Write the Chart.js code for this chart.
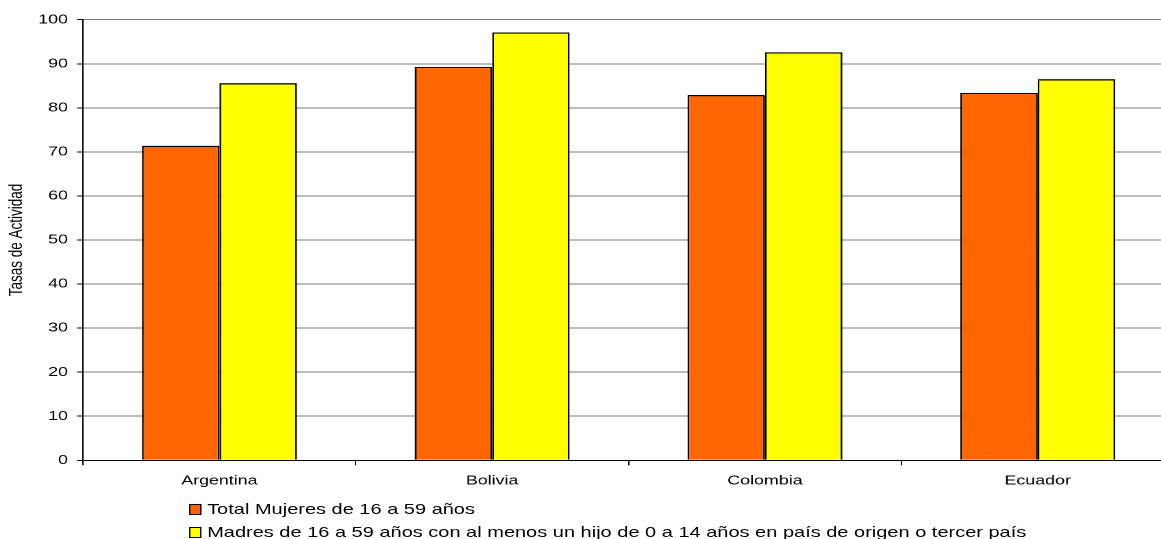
<!DOCTYPE html>
<html>
<head>
<meta charset="utf-8">
<script src="https://cdn.jsdelivr.net/npm/chart.js@4.4.0/dist/chart.umd.min.js"></script>
<style>
  html, body { margin: 0; padding: 0; background: #fff; overflow: hidden; width: 1161px; height: 539px; }
  /* the whole figure is drawn at a narrower logical width and widened horizontally */
  #frame { position: absolute; left: 0; top: 0; width: 858px; height: 539px; transform: scaleX(1.37); transform-origin: 0 0; }
  #chart { position: absolute; left: 0; top: 0; }
  #legend { position: absolute; left: 138px; top: 0; font-family: "Liberation Sans", Arial, sans-serif; font-size: 14.6px; color: #000; }
  .item { position: absolute; left: 0; white-space: nowrap; line-height: 15px; height: 15px; }
  .swatch { display: inline-block; width: 9.3px; height: 11px; border: 1px solid #000; box-sizing: border-box; margin-right: 3.9px; vertical-align: -1px; }
</style>
</head>
<body>
<div id="frame">
  <canvas id="chart" width="858" height="539"></canvas>
  <div id="legend"></div>
</div>
<script>
// Tasas de actividad por país de nacimiento
const categories = ['Argentina', 'Bolivia', 'Colombia', 'Ecuador'];
const totalMujeres = [71.4, 89.3, 82.9, 83.4];
const madres = [85.6, 97.1, 92.6, 86.5];
const seriesNames = [
  'Total Mujeres de 16 a 59 años',
  'Madres de 16 a 59 años con al menos un hijo de 0 a 14 años en país de origen o tercer país'
];
const seriesColors = ['#FF6600', '#FFFF00'];
const yTickValues = [0, 10, 20, 30, 40, 50, 60, 70, 80, 90, 100];
const yTitle = 'Tasas de Actividad';

const FONT = '"Liberation Sans", Arial, sans-serif';

const chart = new Chart(document.getElementById('chart'), {
  type: 'bar',
  data: {
    labels: categories,
    datasets: [
      { label: seriesNames[0], data: totalMujeres, backgroundColor: seriesColors[0], borderColor: '#000', borderWidth: 1.3 },
      { label: seriesNames[1], data: madres, backgroundColor: seriesColors[1], borderColor: '#000', borderWidth: 1.3 }
    ]
  },
  options: {
    responsive: false,
    devicePixelRatio: 2,
    animation: false,
    datasets: { bar: { categoryPercentage: 0.568, barPercentage: 1 } },
    layout: { padding: { top: 19.7, right: 1, bottom: 48.7, left: 0 } },
    plugins: { legend: { display: false }, tooltip: { enabled: false } },
    scales: {
      x: {
        grid: { offset: true, drawOnChartArea: false, drawTicks: true, tickLength: 5, tickColor: '#000', tickWidth: 1 },
        border: { color: '#000', width: 1 },
        ticks: { color: '#000', font: { family: FONT, size: 13 }, padding: 8, maxRotation: 0 },
        afterFit(scale) { scale.height = 30; }
      },
      y: {
        min: yTickValues[0],
        max: yTickValues[yTickValues.length - 1],
        afterBuildTicks(scale) { scale.ticks = yTickValues.map(v => ({ value: v })); },
        grid: { color: '#7a7a7a', lineWidth: 1, tickColor: '#000', tickLength: 4.4, tickWidth: 1 },
        border: { color: '#000', width: 1 },
        ticks: { color: '#000', font: { family: FONT, size: 13 }, padding: 6.6 },
        title: { display: true, text: yTitle, color: '#000', font: { family: FONT, size: 13.5 }, padding: { top: 4.3, bottom: 0 } },
        afterFit(scale) { scale.width = 60.6; }
      }
    }
  }
});

// legend built from the chart's datasets
const legend = document.getElementById('legend');
const rowTops = [502, 525];
chart.data.datasets.forEach((ds, i) => {
  const item = document.createElement('div');
  item.className = 'item';
  item.style.top = rowTops[i] + 'px';
  const sw = document.createElement('span');
  sw.className = 'swatch';
  sw.style.background = ds.backgroundColor;
  item.appendChild(sw);
  item.appendChild(document.createTextNode(ds.label));
  legend.appendChild(item);
});
</script>
</body>
</html>
